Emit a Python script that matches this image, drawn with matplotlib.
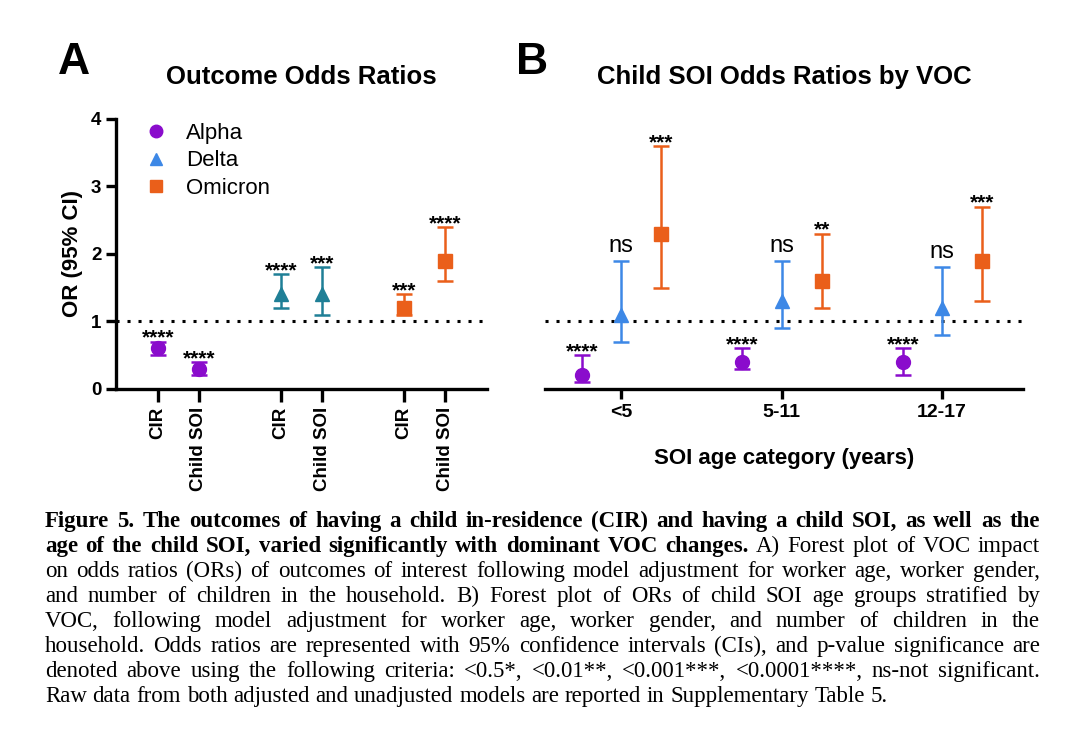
import matplotlib
matplotlib.use("Agg")
import matplotlib.pyplot as plt
from matplotlib.lines import Line2D

plt.rcParams["font.family"] = ["Liberation Sans", "DejaVu Sans"]

# ---- data ----
variants = ["Alpha", "Delta", "Omicron"]
outcomes = ["CIR", "Child SOI"]

# panel A: OR, lower, upper per variant (CIR, Child SOI)
a_or = {"Alpha": [0.6, 0.3], "Delta": [1.4, 1.4], "Omicron": [1.2, 1.9]}
a_lo = {"Alpha": [0.5, 0.2], "Delta": [1.2, 1.1], "Omicron": [1.1, 1.6]}
a_hi = {"Alpha": [0.7, 0.4], "Delta": [1.7, 1.8], "Omicron": [1.4, 2.4]}
a_sig = {"Alpha": ["****", "****"], "Delta": ["****", "***"], "Omicron": ["***", "****"]}

# panel B: child SOI age categories
ages = ["<5", "5-11", "12-17"]
b_or = {"Alpha": [0.2, 0.4, 0.4], "Delta": [1.1, 1.3, 1.2], "Omicron": [2.3, 1.6, 1.9]}
b_lo = {"Alpha": [0.1, 0.3, 0.2], "Delta": [0.7, 0.9, 0.8], "Omicron": [1.5, 1.2, 1.3]}
b_hi = {"Alpha": [0.5, 0.6, 0.6], "Delta": [1.9, 1.9, 1.8], "Omicron": [3.6, 2.3, 2.7]}
b_sig = {"Alpha": ["****", "****", "****"], "Delta": ["ns", "ns", "ns"],
         "Omicron": ["***", "**", "***"]}

markers = {"Alpha": "o", "Delta": "^", "Omicron": "s"}
colors_a = {"Alpha": "#8a0ccc", "Delta": "#1f7f96", "Omicron": "#ea5f1a"}
colors_b = {"Alpha": "#8a0ccc", "Delta": "#3d88e6", "Omicron": "#ea5f1a"}

caption = [
    [("Figure 5. The outcomes of having a child in-residence (CIR) and having a child SOI, as well as the", True)],
    [("age of the child SOI, varied significantly with dominant VOC changes.", True),
     ("A) Forest plot of VOC impact", False)],
    [("on odds ratios (ORs) of outcomes of interest following model adjustment for worker age, worker gender,", False)],
    [("and number of children in the household. B) Forest plot of ORs of child SOI age groups stratified by", False)],
    [("VOC, following model adjustment for worker age, worker gender, and number of children in the", False)],
    [("household. Odds ratios are represented with 95% confidence intervals (CIs), and p-value significance are", False)],
    [("denoted above using the following criteria: <0.5*, <0.01**, <0.001***, <0.0001****, ns-not significant.", False)],
    [("Raw data from both adjusted and unadjusted models are reported in Supplementary Table 5.", False)],
]

W, H = 1070, 754
fig = plt.figure(figsize=(W / 100, H / 100), dpi=100)
fig.patch.set_facecolor("white")

axA = fig.add_axes([116 / W, 1 - 389 / H, 371 / W, 270 / H])
axB = fig.add_axes([545 / W, 1 - 389 / H, 478 / W, 270 / H])


def style_axis(ax):
    for s in ["top", "right"]:
        ax.spines[s].set_visible(False)
    for s in ["left", "bottom"]:
        ax.spines[s].set_linewidth(2.4)
    ax.tick_params(width=2.4, length=7, labelsize=13.5)
    ax.set_ylim(0, 4)
    ax.axhline(1, color="black", lw=2.2, ls=(0, (1, 2.6)), zorder=1)


def draw_point(ax, x, y, lo, hi, color, marker, sig):
    ax.errorbar([x], [y], yerr=[[y - lo], [hi - y]], fmt=marker, color=color,
                ms=10, capsize=6, elinewidth=1.8, capthick=1.8, zorder=3)
    if sig == "ns":
        ax.annotate(sig, (x, hi), xytext=(0, 6.5), textcoords="offset points",
                    ha="center", va="baseline", fontsize=17)
    else:
        ax.annotate(sig, (x, hi), xytext=(0, -1.5), textcoords="offset points",
                    ha="center", va="baseline", fontsize=15, fontweight="bold")


# ---- panel A ----
style_axis(axA)
xA = []
for i, v in enumerate(variants):
    for j, o in enumerate(outcomes):
        x = i * 3 + j
        xA.append(x)
        draw_point(axA, x, a_or[v][j], a_lo[v][j], a_hi[v][j], colors_a[v], markers[v], a_sig[v][j])
axA.set_xlim(-1.02, 8.02)
axA.set_xticks(xA)
axA.set_xticklabels(outcomes * 3, rotation=90, fontweight="bold", fontsize=13.5)
axA.tick_params(axis="x", length=9)
axA.set_yticks([0, 1, 2, 3, 4])
axA.set_yticklabels(["0", "1", "2", "3", "4"], fontweight="bold")
axA.set_ylabel("OR (95% CI)", fontsize=16, fontweight="bold", labelpad=6)
axA.set_title("Outcome Odds Ratios", fontsize=18.5, fontweight="bold", pad=25)

handles = [Line2D([], [], ls="none", marker=markers[v], color=colors_b[v], ms=9) for v in variants]
axA.legend(handles, variants, loc="upper left", bbox_to_anchor=(0.017, 1.06), frameon=False,
           fontsize=16, handletextpad=0.75, labelspacing=0.3, handlelength=1.2)

# ---- panel B ----
style_axis(axB)
axB.spines["left"].set_visible(False)
axB.tick_params(axis="y", left=False, labelleft=False)
offsets = {"Alpha": -0.245, "Delta": 0.0, "Omicron": 0.25}
for k, age in enumerate(ages):
    for v in variants:
        draw_point(axB, k + offsets[v], b_or[v][k], b_lo[v][k], b_hi[v][k],
                   colors_b[v], markers[v], b_sig[v][k])
axB.set_xlim(-0.474, 2.505)
axB.set_xticks(range(len(ages)))
axB.set_xticklabels(ages, fontweight="bold", fontsize=14)
axB.tick_params(axis="x", length=7)
axB.set_xlabel("SOI age category (years)", fontsize=16, fontweight="bold", labelpad=20)
axB.set_title("Child SOI Odds Ratios by VOC", fontsize=18.5, fontweight="bold", pad=25)

# panel letters
fig.text(74 / W, 1 - 62 / H, "A", fontsize=32, fontweight="bold", ha="center", va="center")
fig.text(532 / W, 1 - 62 / H, "B", fontsize=32, fontweight="bold", ha="center", va="center")

# ---- caption, justified word by word ----
renderer = fig.canvas.get_renderer()
left_px, right_px = 45, 1040
cap_size = 16.5
for li, parts in enumerate(caption):
    words = []
    for chunk, bold in parts:
        for w in chunk.split(" "):
            words.append((w, bold))
    y = 1 - (527 + 25 * li) / H
    texts = []
    for w, bold in words:
        t = fig.text(0, y, w, fontsize=cap_size, family="Liberation Serif",
                     fontweight="bold" if bold else "normal", va="baseline", ha="left")
        texts.append(t)
    widths = [t.get_window_extent(renderer).width for t in texts]
    if li < len(caption) - 1:
        gap = (right_px - left_px - sum(widths)) / (len(words) - 1)
    else:
        gap = cap_size * 1.389 * 0.25
    x = left_px
    for t, w in zip(texts, widths):
        t.set_x(x / W)
        x += w + gap

fig.savefig("out.png", dpi=100, facecolor="white")
